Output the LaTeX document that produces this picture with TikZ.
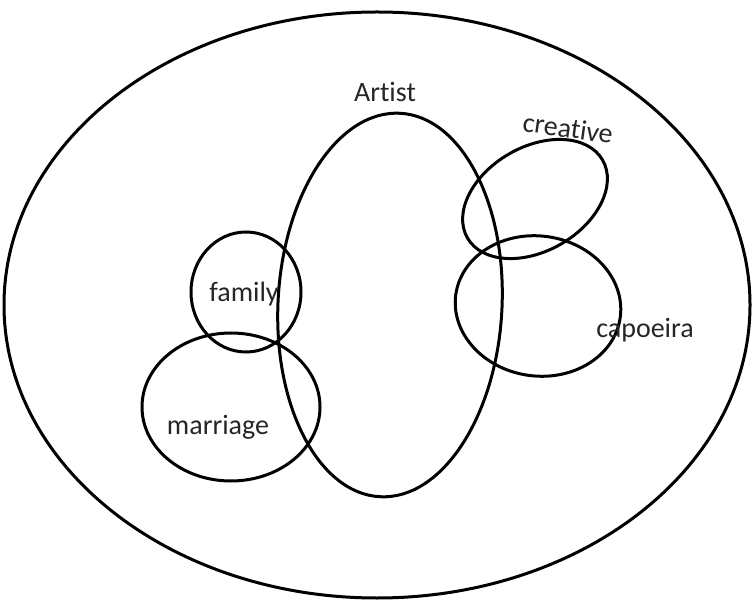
\documentclass[tikz,border=0pt]{standalone}
\usepackage{fontspec}
\setmainfont[Ligatures=NoCommon]{Carlito}
\begin{document}
\begin{tikzpicture}[x=1pt,y=1pt,
  setline/.style={draw=black,line width=3pt},
  lbl/.style={font=\fontsize{28}{33}\selectfont,text=black!85,inner sep=0pt}]
\useasboundingbox (0,0) rectangle (754,605);
\draw[setline] (377,300) ellipse [x radius=373, y radius=293];
\draw[setline] (390,300) ellipse [x radius=112, y radius=192, rotate=-3];
\draw[setline] (246,313) ellipse [x radius=55, y radius=60];
\draw[setline] (231,198) ellipse [x radius=89, y radius=74];
\draw[setline] (535,406) ellipse [x radius=78, y radius=52, rotate=30];
\draw[setline] (538,299) ellipse [x radius=83, y radius=70, rotate=-8];
\node[lbl] (artist) at (385,513) {Artist};
\node[lbl,rotate=-8] (creative) at (568,477) {creative};
\node[lbl] (family) at (244,311) {family};
\node[lbl] (marriage) at (218,178) {marriage};
\node[lbl] (capoeira) at (645,275) {capoeira};
\end{tikzpicture}
\end{document}
